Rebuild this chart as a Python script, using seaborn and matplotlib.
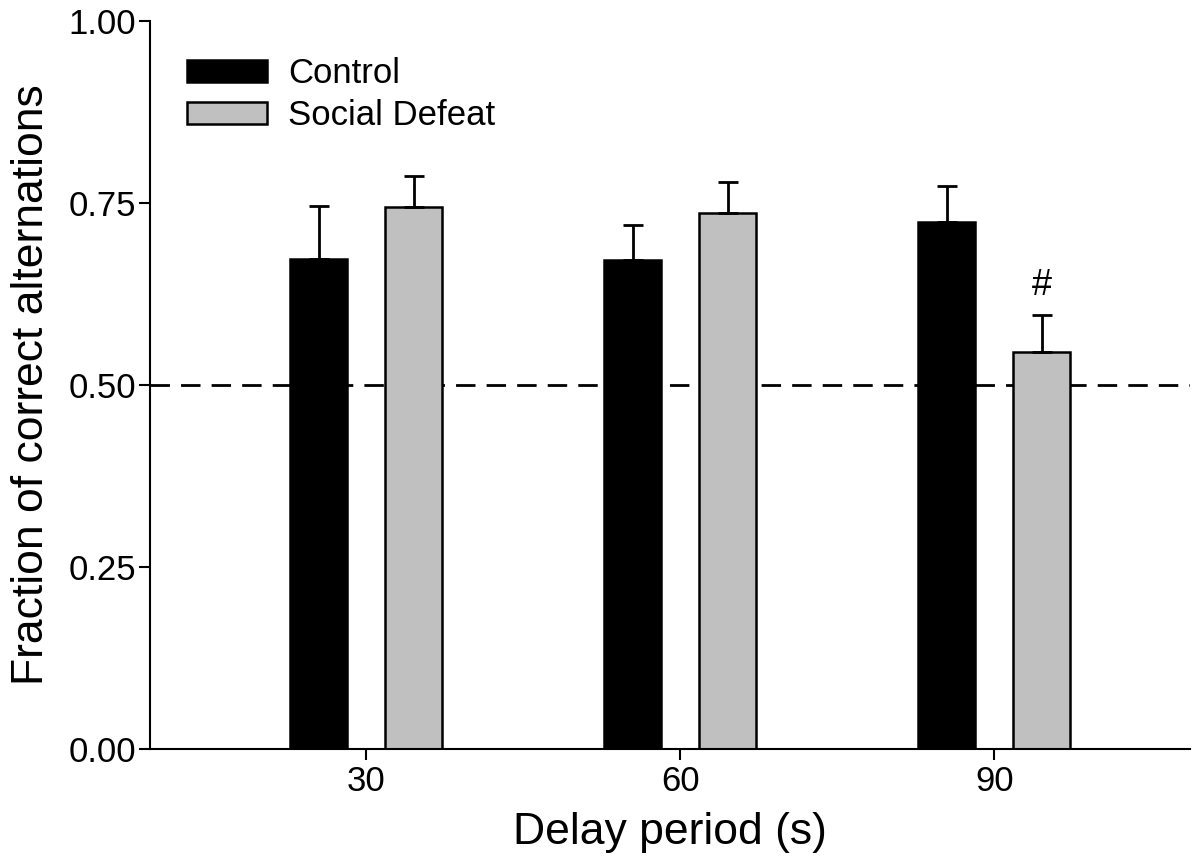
import seaborn as sns
import matplotlib.pyplot as plt
import pandas as pd
import numpy as np

# values
delays = ["30", "60", "90"]
groups = ["Control", "Social Defeat"]
control_mean = [0.673, 0.671, 0.724]
control_sem = [0.073, 0.049, 0.049]
defeat_mean = [0.744, 0.736, 0.545]
defeat_sem = [0.043, 0.042, 0.051]

df = pd.DataFrame({
    "delay": delays * 2,
    "group": [groups[0]] * 3 + [groups[1]] * 3,
    "mean": control_mean + defeat_mean,
    "sem": control_sem + defeat_sem,
})

sns.set_style("ticks")
plt.rcParams['font.family'] = ['Liberation Sans', 'DejaVu Sans']
plt.rcParams['text.color'] = 'black'
plt.rcParams['axes.labelcolor'] = 'black'
plt.rcParams['xtick.color'] = 'black'
plt.rcParams['ytick.color'] = 'black'

fig = plt.figure(figsize=(12, 8.65), dpi=100)
ax = fig.add_axes([0.125, 0.134, 0.867, 0.842])

sns.barplot(data=df, x="delay", y="mean", hue="group", order=delays, hue_order=groups,
            palette=["black", "#c0c0c0"], width=0.605, gap=0.4, errorbar=None,
            edgecolor="black", linewidth=1.8, ax=ax)

# one-sided error bars on top of each bar
sems = [control_sem, defeat_sem]
for cont, err in zip(ax.containers, sems):
    xs = [p.get_x() + p.get_width() / 2 for p in cont.patches]
    ys = [p.get_height() for p in cont.patches]
    ax.errorbar(xs, ys, yerr=[np.zeros(len(err)), err], fmt="none", ecolor="black",
                elinewidth=2, capsize=7.5, capthick=2, zorder=1)

# significance mark above the 90 s social defeat bar
p = ax.containers[1].patches[2]
ax.text(p.get_x() + p.get_width() / 2, p.get_height() + defeat_sem[2] + 0.04, "#",
        ha="center", va="center", fontsize=26)

ax.axhline(0.5, color="black", lw=2, ls=(0, (7, 4)), zorder=0.5)

ax.set_ylim(0, 1)
ax.set_xlim(-0.688, 2.624)
ax.set_yticks([0, 0.25, 0.5, 0.75, 1.0])
ax.set_yticklabels(["0.00", "0.25", "0.50", "0.75", "1.00"])
ax.tick_params(labelsize=25, width=1.5, length=8, color="black", labelcolor="black")
ax.tick_params(axis="y", pad=2)
for s in ["left", "bottom"]:
    ax.spines[s].set_linewidth(1.5)
    ax.spines[s].set_color("black")
sns.despine(ax=ax)

ax.set_xlabel("Delay period (s)", fontsize=32, labelpad=10)
ax.set_ylabel("Fraction of correct alternations", fontsize=32, labelpad=12)

leg = ax.legend(loc="upper left", bbox_to_anchor=(0.036, 0.950), frameon=False, fontsize=25,
                borderpad=0, borderaxespad=0,
                handlelength=2.3, handleheight=0.6, handletextpad=0.6, labelspacing=0.25)

fig.savefig("out.png", dpi=100)
